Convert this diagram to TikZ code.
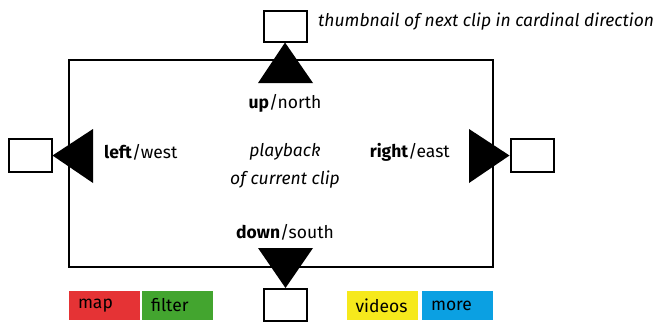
\documentclass[tikz,border=0pt]{standalone}
\usepackage{fontspec}
\setmainfont{Fira Sans}
\definecolor{tabred}{HTML}{E53335}
\definecolor{tabgreen}{HTML}{43A52F}
\definecolor{tabyellow}{HTML}{F6E91C}
\definecolor{tabblue}{HTML}{0BA0E2}
\begin{document}
\begin{tikzpicture}[x=1pt,y=-1pt,
  frame/.style={draw,line width=2pt,inner sep=0pt},
  thumb/.style={frame,fill=white,minimum width=43pt,minimum height=32pt},
  tri/.style={fill=black},
  lbl/.style={font=\fontsize{17.5}{20}\selectfont,inner sep=0pt},
  tab/.style={inner xsep=9pt,inner ysep=0pt,minimum height=29pt,text width=53pt,align=left,
    font=\fontsize{17.5}{20}\selectfont}]
\useasboundingbox (0,0) rectangle (660,324);
% main screen
\node[frame,minimum width=424.5pt,minimum height=207pt] (screen) at (280.75,163) {};
% thumbnails
\node[thumb,minimum height=31pt] (tn) at (285,26) {};
\node[thumb,minimum height=33pt] (tw) at (30,155.5) {};
\node[thumb,minimum height=33pt] (te) at (532,155.5) {};
\node[thumb] (ts) at (285.5,305) {};
% triangles (arrowheads toward thumbnails)
\coordinate (nA) at (258,83); \coordinate (nB) at (313,83);
\fill[tri] (nA) -- (nB) -- (tn.south) -- cycle;
\coordinate (wA) at (93,129); \coordinate (wB) at (93,183);
\fill[tri] (wA) -- (wB) -- (tw.east) -- cycle;
\coordinate (eA) at (469,129); \coordinate (eB) at (469,183);
\fill[tri] (eA) -- (eB) -- (te.west) -- cycle;
\coordinate (sA) at (258,248); \coordinate (sB) at (313,248);
\fill[tri] (sA) -- (sB) -- (ts.north) -- cycle;
% labels
\node[lbl] (up) at (285,103) {\textbf{up}/north};
\node[lbl,anchor=west] (left) at (104,152) {\textbf{left}/west};
\node[lbl,anchor=east] (right) at (450,152) {\textbf{right}/east};
\node[lbl] (down) at (285,232) {\textbf{down}/south};
\node[lbl,font=\fontsize{17.5}{20}\itshape] (play) at (285,152) {playback};
\node[lbl,font=\fontsize{17.5}{20}\itshape] (clip) at (285,180) {of current clip};
\node[lbl,anchor=west,font=\fontsize{17.5}{20}\itshape] (cap) at (318,22) {thumbnail of next clip in cardinal direction};
% tabs
\node[tab,fill=tabred] (map) at (104.5,305.5) {map};
\node[tab,fill=tabgreen] (filter) at (177.5,305.5) {filter};
\node[tab,fill=tabyellow] (videos) at (382,305.5) {videos};
\node[tab,fill=tabblue] (more) at (457.5,305.5) {more};
\end{tikzpicture}
\end{document}
